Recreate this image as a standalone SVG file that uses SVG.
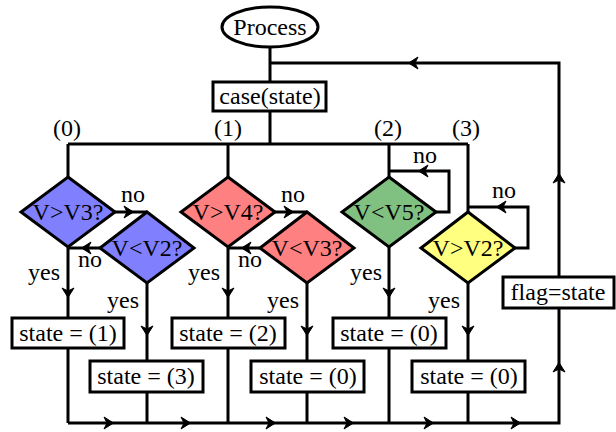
<svg xmlns="http://www.w3.org/2000/svg" xmlns:xlink="http://www.w3.org/1999/xlink" width="616" height="432" viewBox="0 0 616 432">
<style>
text{font-family:"Liberation Serif","Times New Roman",serif;font-size:24px;fill:#000}
.c{text-anchor:middle}
.e{text-anchor:end}
.ln{fill:none;stroke:#000;stroke-width:3;stroke-linejoin:miter}
.bx{fill:#fff;stroke:#000;stroke-width:3}
.dm{stroke:#000;stroke-width:3;stroke-linejoin:miter}
.blue{fill:#8080ff}.red{fill:#ff8080}.green{fill:#80c080}.yellow{fill:#ffff80}
</style>
<defs>
<path id="ah" d="M1.5,0 L-8,-6 L-5,0 L-8,6 Z" fill="#000" stroke="#000" stroke-width="1" stroke-linejoin="miter"/>
</defs>
<rect width="616" height="432" fill="#fff"/>
<g id="connectors">
<path class="ln" d="M270,47 V82 M270,111 V144 M68,144 H468 M68,144 V177 M228,144 V177 M389,144 V177 M468,144 V212"/>
<path class="ln" d="M115,212 H147 M101,248 H68 M68,247 V318 M147,283 V361 M68,348 V423 M147,392 V423"/>
<path class="ln" d="M275,212 H307 M261,248 H228 M228,247 V318 M307,283 V361 M228,348 V423 M307,392 V423"/>
<path class="ln" d="M389,247 V318 M436,212 H449 V171 H389 M389,348 V423"/>
<path class="ln" d="M468,283 V361 M515,248 H528 V207 H468 M468,392 V423"/>
<path class="ln" d="M68,423 H559 V308 M559,277 V63 H270"/>
<use xlink:href="#ah" transform="translate(132,212)"/>
<use xlink:href="#ah" transform="translate(83,248) rotate(180)"/>
<use xlink:href="#ah" transform="translate(68,296) rotate(90)"/>
<use xlink:href="#ah" transform="translate(147,334) rotate(90)"/>
<use xlink:href="#ah" transform="translate(292,212)"/>
<use xlink:href="#ah" transform="translate(243,248) rotate(180)"/>
<use xlink:href="#ah" transform="translate(228,296) rotate(90)"/>
<use xlink:href="#ah" transform="translate(307,334) rotate(90)"/>
<use xlink:href="#ah" transform="translate(389,296) rotate(90)"/>
<use xlink:href="#ah" transform="translate(420,171) rotate(180)"/>
<use xlink:href="#ah" transform="translate(468,334) rotate(90)"/>
<use xlink:href="#ah" transform="translate(498,207) rotate(180)"/>
<use xlink:href="#ah" transform="translate(112,423)"/>
<use xlink:href="#ah" transform="translate(189,423)"/>
<use xlink:href="#ah" transform="translate(274,423)"/>
<use xlink:href="#ah" transform="translate(352,423)"/>
<use xlink:href="#ah" transform="translate(432,423)"/>
<use xlink:href="#ah" transform="translate(519,423)"/>
<use xlink:href="#ah" transform="translate(559,364) rotate(-90)"/>
<use xlink:href="#ah" transform="translate(559,175) rotate(-90)"/>
<use xlink:href="#ah" transform="translate(410,63) rotate(180)"/>
</g>
<g id="labels">
<text class="c" x="67" y="136">(0)</text>
<text class="c" x="228" y="136">(1)</text>
<text class="c" x="388" y="136">(2)</text>
<text class="c" x="466" y="136">(3)</text>
<text class="c" x="133" y="202">no</text>
<text class="c" x="90" y="267">no</text>
<text class="e" x="60" y="280">yes</text>
<text class="e" x="139" y="308">yes</text>
<text class="c" x="293" y="202">no</text>
<text class="c" x="250" y="267">no</text>
<text class="e" x="220" y="280">yes</text>
<text class="e" x="299" y="308">yes</text>
<text class="c" x="425" y="163">no</text>
<text class="e" x="382" y="280">yes</text>
<text class="c" x="504" y="198">no</text>
<text class="e" x="460" y="308">yes</text>
</g>
<g id="process"><ellipse class="bx" cx="270" cy="27" rx="48" ry="20"/><text class="c" x="270" y="35">Process</text></g>
<g id="case"><rect class="bx" x="213" y="82" width="113" height="29"/><text class="c" x="270" y="104">case(state)</text></g>
<g id="d_v_gt_v3"><polygon class="dm blue" points="68,177 115,212 68,247 21,212"/><text class="c" x="68" y="220">V&gt;V3?</text></g>
<g id="d_v_lt_v2"><polygon class="dm blue" points="147,212 194,248 147,283 100,248"/><text class="c" x="147" y="256">V&lt;V2?</text></g>
<g id="d_v_gt_v4"><polygon class="dm red" points="228,177 275,212 228,247 181,212"/><text class="c" x="228" y="220">V&gt;V4?</text></g>
<g id="d_v_lt_v3"><polygon class="dm red" points="307,212 354,248 307,283 260,248"/><text class="c" x="307" y="256">V&lt;V3?</text></g>
<g id="d_v_lt_v5"><polygon class="dm green" points="389,177 436,212 389,247 342,212"/><text class="c" x="389" y="220">V&lt;V5?</text></g>
<g id="d_v_gt_v2"><polygon class="dm yellow" points="468,212 515,248 468,283 421,248"/><text class="c" x="468" y="256">V&gt;V2?</text></g>
<g id="s1"><rect class="bx" x="12" y="318" width="112" height="30"/><text class="c" x="68" y="341">state = (1)</text></g>
<g id="s3"><rect class="bx" x="90" y="361" width="113" height="31"/><text class="c" x="146" y="384">state = (3)</text></g>
<g id="s2"><rect class="bx" x="172" y="318" width="113" height="30"/><text class="c" x="228" y="341">state = (2)</text></g>
<g id="s0a"><rect class="bx" x="251" y="361" width="113" height="31"/><text class="c" x="308" y="384">state = (0)</text></g>
<g id="s0b"><rect class="bx" x="333" y="318" width="113" height="30"/><text class="c" x="389" y="341">state = (0)</text></g>
<g id="s0c"><rect class="bx" x="412" y="361" width="113" height="31"/><text class="c" x="469" y="384">state = (0)</text></g>
<g id="flag"><rect class="bx" x="503" y="277" width="111" height="31"/><text class="c" x="558" y="300">flag=state</text></g>
</svg>
